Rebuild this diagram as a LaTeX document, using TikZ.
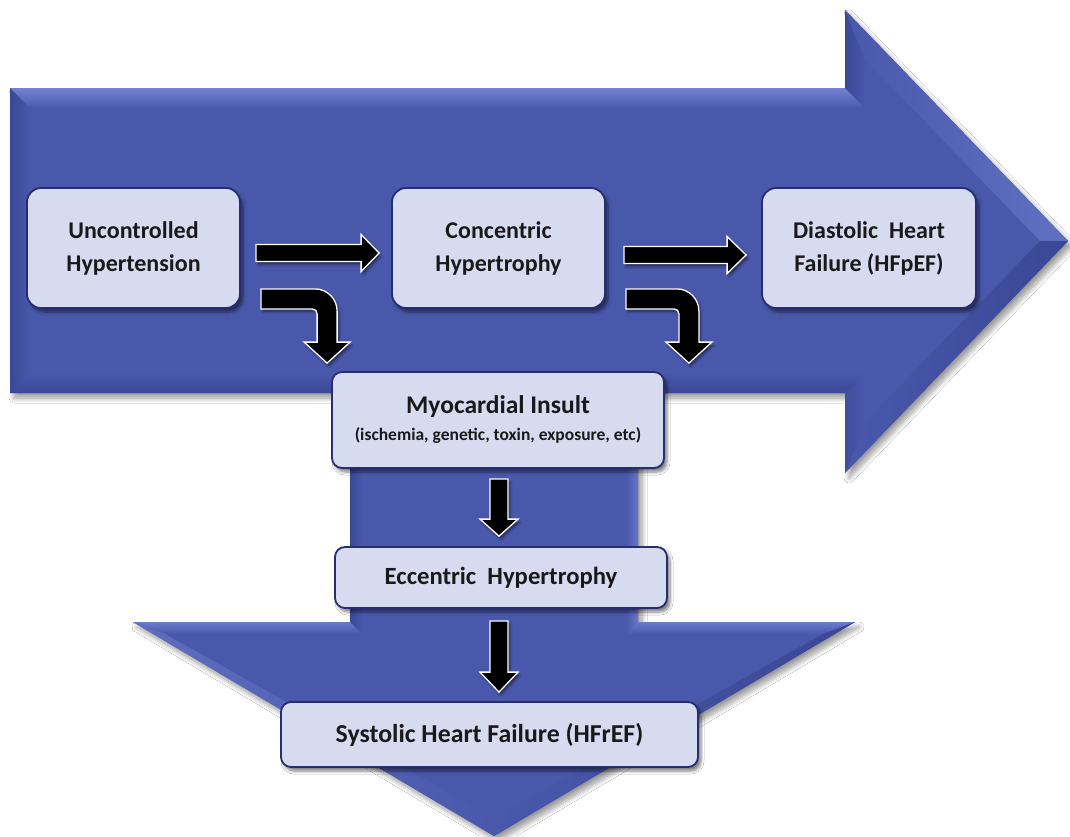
\documentclass[tikz,border=0pt]{standalone}
\usepackage{fontspec}
\setmainfont{Carlito}
\usetikzlibrary{calc,shadows.blur}
\definecolor{base}{HTML}{4A58AC}
\definecolor{lite}{HTML}{7383D2}
\definecolor{dark}{HTML}{3A4795}
\definecolor{boxfill}{HTML}{D7DBF0}
\definecolor{boxline}{HTML}{262D70}
\begin{document}
\begin{tikzpicture}[x=1pt,y=-1pt,
  bigshadow/.style={blur shadow={shadow xshift=4pt,shadow yshift=-5pt,shadow opacity=40,shadow blur steps=10,shadow blur radius=5pt}},
  box/.style={draw=boxline,line width=1.8pt,fill=boxfill,rounded corners=14pt,align=center,inner sep=0pt,text=black!90,
    blur shadow={shadow xshift=3pt,shadow yshift=-4pt,shadow opacity=50,shadow blur steps=6,shadow blur radius=3pt}},
  small/.style={box,rounded corners=10pt},
  big/.style={font=\fontsize{24}{33}\selectfont\bfseries},
  blk/.style={fill=black,draw=white,line width=1.3pt,line join=miter,
    blur shadow={shadow xshift=2pt,shadow yshift=-3pt,shadow opacity=45,shadow blur steps=4,shadow blur radius=2pt}}]
\useasboundingbox (0,0) rectangle (1070,836);
\fill[white] (0,0) rectangle (1070,836);

% ---------- down arrow (behind) ----------
\path[fill=base,bigshadow] (350,380) -- (638,380) -- (638,622) -- (855,622) -- (494,836) -- (133,622) -- (350,622) -- cycle;
\shade[left color=dark,right color=base] (350,380) -- (362,380) -- (362,634) -- (350,622) -- cycle;
\shade[left color=base,right color=lite!70!base] (626,380) -- (638,380) -- (638,622) -- (626,634) -- cycle;
\shade[top color=lite!80!base,bottom color=base] (133,622) -- (350,622) -- (362,634) -- (165,634) -- cycle;
\shade[top color=lite!80!base,bottom color=base] (638,622) -- (855,622) -- (823,634) -- (626,634) -- cycle;
\shade[left color=lite!50!base,right color=base] (133,622) -- (494,836) -- (494,818) -- (165,634) -- cycle;
\shade[left color=base,right color=dark] (855,622) -- (494,836) -- (494,818) -- (823,634) -- cycle;

% ---------- right arrow ----------
\path[fill=base,bigshadow] (10,88) -- (845,88) -- (845,10) -- (1068,241) -- (845,473) -- (845,393) -- (10,393) -- cycle;
\shade[top color=lite,bottom color=base] (10,88) -- (845,88) -- (865,108) -- (30,108) -- cycle;
\shade[left color=dark,right color=base] (10,88) -- (30,108) -- (30,373) -- (10,393) -- cycle;
\shade[top color=base,bottom color=dark] (10,393) -- (845,393) -- (865,373) -- (30,373) -- cycle;
\shade[left color=dark,right color=base] (845,88) -- (845,10) -- (865,59.5) -- (865,108) -- cycle;
\shade[left color=base,right color=lite!55!base] (845,10) -- (1068,241) -- (1040,241) -- (865,59.5) -- cycle;
\shade[left color=base,right color=dark] (1068,241) -- (845,473) -- (865,422.5) -- (1040,241) -- cycle;
\shade[left color=dark!60!base,right color=base] (845,393) -- (865,373) -- (865,422.5) -- (845,473) -- cycle;

% ---------- boxes ----------
\node[box,big,minimum width=213pt,minimum height=120pt] (U) at (133.5,248) {Uncontrolled\\Hypertension};
\node[box,big,minimum width=213pt,minimum height=120pt] (C) at (498.5,248) {Concentric\\Hypertrophy};
\node[box,big,minimum width=214pt,minimum height=120pt] (D) at (869,248) {Diastolic\ \ Heart\\Failure (HFpEF)};
\node[small,minimum width=332pt,minimum height=96pt] (M) at (498,420)
  {{\fontsize{25.5}{28}\selectfont\bfseries Myocardial Insult}\\[9pt]{\fontsize{17.5}{20}\selectfont\bfseries (ischemia, genetic, toxin, exposure, etc)}};
\node[small,minimum width=332pt,minimum height=61pt,font=\fontsize{24.7}{30}\selectfont\bfseries] (E) at (501,577.5) {Eccentric\ \ Hypertrophy};
\node[small,minimum width=417pt,minimum height=65pt,font=\fontsize{25.8}{30}\selectfont\bfseries] (S) at (489.5,734.5) {Systolic Heart Failure (HFrEF)};

% ---------- straight arrows ----------
\draw[blk] let \p1=($(U.east)+(15,5)$), \p2=($(C.west)+(-12,5)$) in
  (\x1,\y1+8.5pt) -- (\x2-18pt,\y1+8.5pt) -- (\x2-18pt,\y1+18.5pt) -- (\x2,\y1) -- (\x2-18pt,\y1-18.5pt) -- (\x2-18pt,\y1-8.5pt) -- (\x1,\y1-8.5pt) -- cycle;
\draw[blk] let \p1=($(C.east)+(18,7)$), \p2=($(D.west)+(-15,7)$) in
  (\x1,\y1+8.5pt) -- (\x2-19pt,\y1+8.5pt) -- (\x2-19pt,\y1+18.5pt) -- (\x2,\y1) -- (\x2-19pt,\y1-18.5pt) -- (\x2-19pt,\y1-8.5pt) -- (\x1,\y1-8.5pt) -- cycle;

% ---------- bent arrows ----------
\draw[blk] let \p1=($(U.south east)+(20,-10)$), \p2=($(M.north west)+(-4,-8)$) in
  (\x1,\y1+10pt) -- (\x2-12pt,\y1+10pt) .. controls (\x2,\y1+10pt) and (\x2+10pt,\y1) .. (\x2+10pt,\y1-12pt)
  -- (\x2+10pt,\y2+21pt) -- (\x2+23pt,\y2+21pt) -- (\x2,\y2) -- (\x2-23pt,\y2+21pt) -- (\x2-10pt,\y2+21pt)
  -- (\x2-10pt,\y1-15pt) .. controls (\x2-10pt,\y1-12pt) and (\x2-12pt,\y1-10pt) .. (\x2-15pt,\y1-10pt)
  -- (\x1,\y1-10pt) -- cycle;
\draw[blk] let \p1=($(C.south east)+(20,-10)$), \p2=($(M.north east)+(24,-8)$) in
  (\x1,\y1+10pt) -- (\x2-12pt,\y1+10pt) .. controls (\x2,\y1+10pt) and (\x2+10pt,\y1) .. (\x2+10pt,\y1-12pt)
  -- (\x2+10pt,\y2+21pt) -- (\x2+23pt,\y2+21pt) -- (\x2,\y2) -- (\x2-23pt,\y2+21pt) -- (\x2-10pt,\y2+21pt)
  -- (\x2-10pt,\y1-15pt) .. controls (\x2-10pt,\y1-12pt) and (\x2-12pt,\y1-10pt) .. (\x2-15pt,\y1-10pt)
  -- (\x1,\y1-10pt) -- cycle;

% ---------- down arrows ----------
\draw[blk] let \p1=($(M.south)+(1,10)$), \p2=($(E.north)+(-2,-10)$) in
  (\x1-9pt,\y1) -- (\x1+9pt,\y1) -- (\x1+9pt,\y2+17pt) -- (\x1+19pt,\y2+17pt) -- (\x1,\y2) -- (\x1-19pt,\y2+17pt) -- (\x1-9pt,\y2+17pt) -- cycle;
\draw[blk] let \p1=($(E.south)+(-2,12)$), \p2=($(S.north)+(0,-9)$) in
  (\x1-9pt,\y1) -- (\x1+9pt,\y1) -- (\x1+9pt,\y2+20pt) -- (\x1+19pt,\y2+20pt) -- (\x1,\y2) -- (\x1-19pt,\y2+20pt) -- (\x1-9pt,\y2+20pt) -- cycle;
\end{tikzpicture}
\end{document}
